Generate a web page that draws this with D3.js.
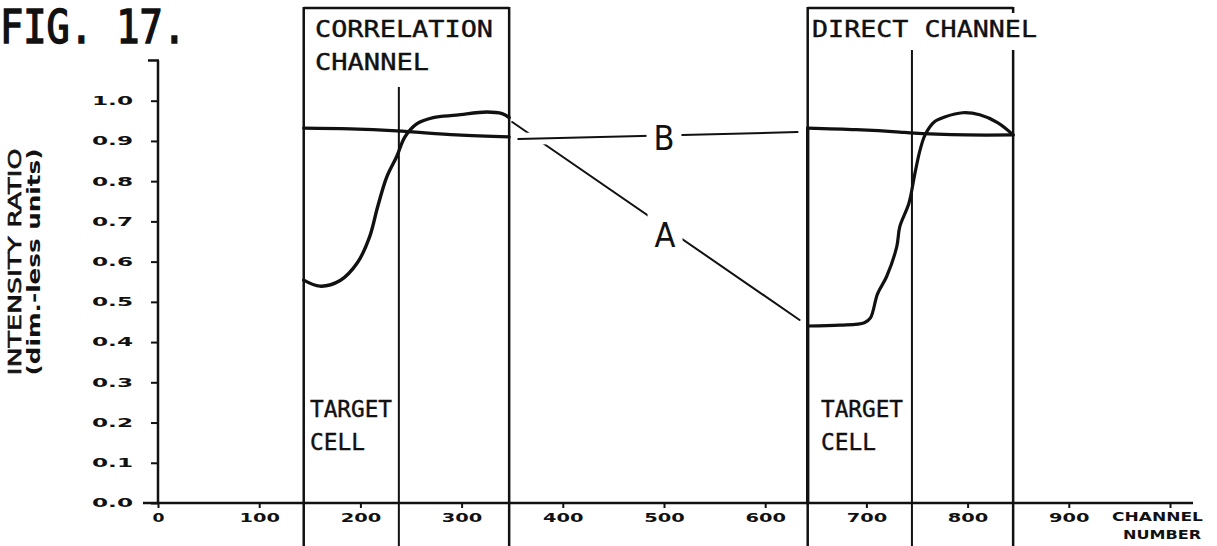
<!DOCTYPE html>
<html>
<head>
<meta charset="utf-8">
<script src="https://cdn.jsdelivr.net/npm/d3@7"></script>
<style>
  html, body { margin: 0; padding: 0; background: #fff; }
  svg { display: block; }
</style>
</head>
<body>
<svg id="chart" width="1217" height="546"></svg>
<script>
// ---------------- data ----------------
const xTickValues = [0, 100, 200, 300, 400, 500, 600, 700, 800, 900, 1000];
const xTickLabels = ["0", "100", "200", "300", "400", "500", "600", "700", "800", "900", ""];
const yTickValues = [0, 0.1, 0.2, 0.3, 0.4, 0.5, 0.6, 0.7, 0.8, 0.9, 1.0];
const yTickLabels = ["0.0", "0.1", "0.2", "0.3", "0.4", "0.5", "0.6", "0.7", "0.8", "0.9", "1.0"];
const yAxisTop = 1.1;

// channel boundaries: [left edge, target cell / rest boundary, right edge]
const corrBox = [144, 238, 347];
const directBox = [642, 745, 845];

// Curve A (correlation channel)
const corrA = [
  [144, 0.554], [160, 0.539], [180, 0.553], [197, 0.597], [209, 0.661],
  [217, 0.736], [226, 0.81], [236, 0.862], [244, 0.91], [256, 0.943],
  [272, 0.958], [295, 0.964], [325, 0.972], [340, 0.968], [347, 0.958]
];
// Curve B (correlation channel)
const corrB = [[144, 0.932], [190, 0.93], [236, 0.925], [295, 0.915], [347, 0.91]];

// Curve A (direct channel)
const directA = [
  [642, 0.44], [674, 0.442], [698, 0.448], [704, 0.46], [711, 0.52],
  [720, 0.563], [730, 0.637], [733, 0.687], [742, 0.745], [748, 0.82],
  [753, 0.877], [758, 0.915], [767, 0.947], [778, 0.96], [795, 0.97],
  [812, 0.965], [830, 0.945], [845, 0.915]
];
// Curve B (direct channel)
const directB = [[642, 0.932], [690, 0.928], [733, 0.922], [743, 0.92], [799, 0.915], [845, 0.915]];
const directPen = [[642, 0], [642, 0.932]];

// connecting lines between the two channels
const linkA = [[350, 0.947], [634, 0.455]];
const linkB = [[356, 0.905], [632, 0.922]];
const labelA = [501, 0.666];
const labelB = [500, 0.907];

// ---------------- layout ----------------
const W = 1217, H = 546;
const svg = d3.select("#chart");
const x = d3.scaleLinear().domain([0, 1000]).range([158, 1170]);
const y = d3.scaleLinear().domain([0, 1]).range([503, 100.7]);

const ink = "#111";
const mono = "'DejaVu Sans Mono', monospace";
const cond = "'DejaVu Sans Condensed', 'DejaVu Sans', sans-serif";
const wide = "'DejaVu Sans', sans-serif";

// ---------------- axes ----------------
svg.append("line")
  .attr("x1", x(0)).attr("x2", x(0))
  .attr("y1", y(0)).attr("y2", y(yAxisTop))
  .attr("stroke", ink).attr("stroke-width", 2.5);
svg.append("line")
  .attr("x1", x(0) - 10).attr("x2", x(0) + 1)
  .attr("y1", y(yAxisTop)).attr("y2", y(yAxisTop))
  .attr("stroke", ink).attr("stroke-width", 2.5);

const yAxis = d3.axisLeft(y)
  .tickValues(yTickValues)
  .tickSize(7)
  .tickPadding(18)
  .tickFormat((d, i) => yTickLabels[i]);
const gy = svg.append("g").attr("transform", `translate(${x(0)},0)`).call(yAxis);
gy.select(".domain").remove();
gy.selectAll(".tick line").attr("stroke", ink).attr("stroke-width", 2);
gy.selectAll(".tick text")
  .attr("fill", ink)
  .style("font-family", wide).style("font-weight", "bold").style("font-size", "12px")
  .attr("textLength", 41).attr("lengthAdjust", "spacingAndGlyphs");

svg.append("line")
  .attr("x1", x(0) - 15).attr("x2", x(1000) + 23)
  .attr("y1", y(0)).attr("y2", y(0))
  .attr("stroke", ink).attr("stroke-width", 2.5);

const xAxis = d3.axisBottom(x)
  .tickValues(xTickValues)
  .tickSize(5)
  .tickPadding(5)
  .tickFormat((d, i) => xTickLabels[i]);
const gx = svg.append("g").attr("transform", `translate(0,${y(0)})`).call(xAxis);
gx.select(".domain").remove();
gx.selectAll(".tick line").attr("stroke", ink).attr("stroke-width", 2);
gx.selectAll(".tick text")
  .attr("fill", ink)
  .style("font-family", wide).style("font-weight", "bold").style("font-size", "12px")
  .each(function(d, i) {
    const t = xTickLabels[i];
    d3.select(this).attr("textLength", t.length > 1 ? 13.5 * t.length : 12)
      .attr("lengthAdjust", "spacingAndGlyphs");
  });

svg.append("text").text("CHANNEL")
  .attr("x", 1203).attr("y", 521).attr("text-anchor", "end")
  .attr("fill", ink)
  .style("font-family", wide).style("font-weight", "bold").style("font-size", "12px")
  .attr("textLength", 91).attr("lengthAdjust", "spacingAndGlyphs");
svg.append("text").text("NUMBER")
  .attr("x", 1201).attr("y", 539).attr("text-anchor", "end")
  .attr("fill", ink)
  .style("font-family", wide).style("font-weight", "bold").style("font-size", "12px")
  .attr("textLength", 78).attr("lengthAdjust", "spacingAndGlyphs");

// y axis title
svg.append("text").text("INTENSITY RATIO")
  .attr("transform", `translate(21,262) rotate(-90)`)
  .attr("text-anchor", "middle").attr("fill", ink)
  .attr("stroke", ink).attr("stroke-width", 0.6)
  .style("font-family", wide).style("font-size", "18px")
  .attr("textLength", 227).attr("lengthAdjust", "spacingAndGlyphs");
svg.append("text").text("(dim.-less units)")
  .attr("transform", `translate(40,262) rotate(-90)`)
  .attr("text-anchor", "middle").attr("fill", ink)
  .style("font-family", wide).style("font-weight", "bold").style("font-size", "17px")
  .attr("textLength", 227).attr("lengthAdjust", "spacingAndGlyphs");

// title
svg.append("text").text("FIG. 17.")
  .attr("x", 0).attr("y", 43).attr("fill", ink)
  .attr("stroke", ink).attr("stroke-width", 1.6)
  .style("font-family", mono).style("font-size", "47px")
  .attr("textLength", 186).attr("lengthAdjust", "spacingAndGlyphs");

// ---------------- channel boxes ----------------
const boxTop = 8;
function vline(ch, top, sw) {
  svg.append("line")
    .attr("x1", x(ch)).attr("x2", x(ch))
    .attr("y1", top).attr("y2", H)
    .attr("stroke", ink).attr("stroke-width", sw);
}
svg.append("line").attr("x1", x(corrBox[0])).attr("x2", x(corrBox[2]))
  .attr("y1", boxTop).attr("y2", boxTop).attr("stroke", ink).attr("stroke-width", 2.5);
vline(corrBox[0], boxTop - 1, 2.5);
vline(corrBox[1], 87, 2);
vline(corrBox[2], boxTop - 1, 2.5);
svg.append("line").attr("x1", x(directBox[0])).attr("x2", x(directBox[2]))
  .attr("y1", boxTop).attr("y2", boxTop).attr("stroke", ink).attr("stroke-width", 2.5);
svg.append("line").attr("x1", x(directBox[2])).attr("x2", x(directBox[2]))
  .attr("y1", boxTop - 1).attr("y2", boxTop + 5).attr("stroke", ink).attr("stroke-width", 2.5);
vline(directBox[0], boxTop - 1, 2.5);
vline(directBox[1], 50, 2);
vline(directBox[2], 50, 2.5);

function label(t, xx, yy, len) {
  svg.append("text").text(t)
    .attr("x", xx).attr("y", yy).attr("fill", ink)
    .attr("stroke", ink).attr("stroke-width", 0.4)
    .style("font-family", mono).style("font-size", "23px")
    .attr("textLength", len).attr("lengthAdjust", "spacingAndGlyphs");
}
label("CORRELATION", 315, 37, 178);
label("CHANNEL", 315, 70, 114);
label("DIRECT CHANNEL", 812, 37, 225);
label("TARGET", 310, 417, 82);
label("CELL", 310, 450, 55);
label("TARGET", 821, 417, 82);
label("CELL", 821, 450, 55);

// ---------------- curves ----------------
const line = d3.line().x(d => x(d[0])).y(d => y(d[1])).curve(d3.curveCatmullRom.alpha(0.5));
const straight = d3.line().x(d => x(d[0])).y(d => y(d[1]));

function curve(data, gen, sw) {
  svg.append("path").datum(data).attr("d", gen)
    .attr("fill", "none").attr("stroke", ink).attr("stroke-width", sw)
    .attr("stroke-linejoin", "round").attr("stroke-linecap", "round");
}
curve(corrB, line, 3.2);
curve(corrA, line, 3.4);
curve(directB, line, 3.2);
curve(directA, line, 3.2);
curve(directPen, straight, 3.4);

curve(linkA, straight, 2);
svg.append("path").datum(linkB).attr("d", straight)
  .attr("fill", "none").attr("stroke", "#fff").attr("stroke-width", 12);
curve(linkB, straight, 2);

function linkLabel(t, pos) {
  const g = svg.append("g");
  const txt = g.append("text").text(t)
    .attr("x", x(pos[0])).attr("y", y(pos[1]))
    .attr("text-anchor", "middle").attr("dominant-baseline", "central")
    .attr("fill", ink)
    .style("font-family", cond).style("font-size", "34px");
  const bb = txt.node().getBBox();
  g.insert("rect", "text")
    .attr("x", bb.x - 7).attr("y", bb.y - 2)
    .attr("width", bb.width + 14).attr("height", bb.height + 4)
    .attr("fill", "#fff");
}
linkLabel("B", labelB);
linkLabel("A", labelA);
</script>
</body>
</html>
